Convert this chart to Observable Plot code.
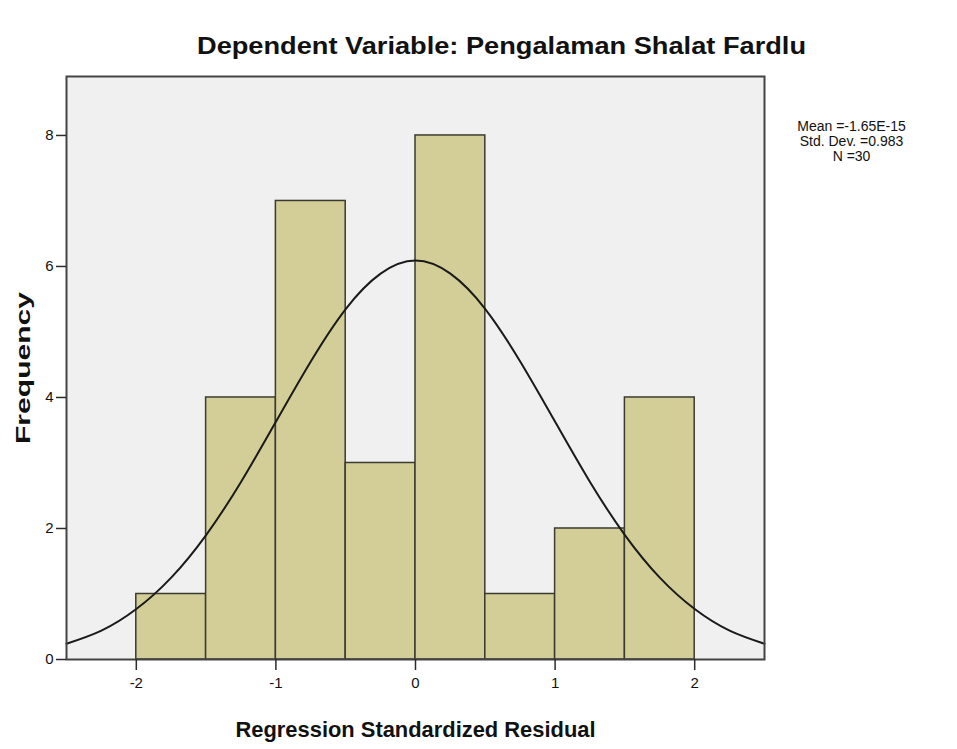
<!DOCTYPE html>
<html><head><meta charset="utf-8">
<script src="https://cdn.jsdelivr.net/npm/d3@7"></script>
<script src="https://cdn.jsdelivr.net/npm/@observablehq/plot@0.6"></script>
<style>body{margin:0;background:#fff}</style>
</head><body><div id="chart"></div>
<script>
const title = "Dependent Variable: Pengalaman Shalat Fardlu";
const xLabel = "Regression Standardized Residual";
const yLabel = "Frequency";
const binStart = [-2, -1.5, -1, -0.5, 0, 0.5, 1, 1.5];
const binEnd   = [-1.5, -1, -0.5, 0, 0.5, 1, 1.5, 2];
const counts   = [1, 4, 7, 3, 8, 1, 2, 4];
const xTicks = [-2, -1, 0, 1, 2];
const yTicks = [0, 2, 4, 6, 8];
const curveX = [-2.5,-2.25,-2,-1.75,-1.5,-1.25,-1,-0.75,-0.5,-0.25,0,0.25,0.5,0.75,1,1.25,1.5,1.75,2,2.25,2.5];
const curveY = [0.24,0.44,0.77,1.25,1.90,2.71,3.63,4.55,5.35,5.89,6.09,5.89,5.35,4.55,3.63,2.71,1.90,1.25,0.77,0.44,0.24];
const statLines = ["Mean =-1.65E-15", "Std. Dev. =0.983", "N =30"];

const bars = counts.map((c, i) => ({x1: binStart[i], x2: binEnd[i], y: c}));
const curve = curveX.map((x, i) => ({x, y: curveY[i]}));
const dark = "#2b2b2b";

const chart = Plot.plot({
  width: 957, height: 749,
  marginLeft: 66, marginRight: 193, marginTop: 76, marginBottom: 90,
  style: {fontFamily: "Liberation Sans, Arial, sans-serif", background: "#fff", color: dark},
  x: {domain: [-2.5, 2.5], label: null},
  y: {domain: [0, 8.9], label: null},
  marks: [
    Plot.frame({fill: "#f0f0f0"}),
    Plot.rectY(bars, {x1: "x1", x2: "x2", y: "y", fill: "#d3ce98", stroke: "#3a3a30", strokeWidth: 1.5}),
    Plot.line(curve, {x: "x", y: "y", curve: "natural", stroke: "#1a1a1a", strokeWidth: 2}),
    Plot.frame({stroke: "#444", strokeWidth: 2}),
    Plot.axisX({ticks: xTicks, tickFormat: d => d, tickSize: 11, tickPadding: 7, fontSize: 15, label: null, stroke: dark, strokeWidth: 1.5, fill: "#111"}),
    Plot.axisY({ticks: yTicks, tickSize: 10, tickPadding: 3, fontSize: 15, label: null, stroke: dark, strokeWidth: 1.5, fill: "#111"}),
    Plot.text([title], {frameAnchor: "top", dx: 86, dy: -39, text: d => d, fontSize: 23, fontWeight: "bold", fill: "#111", className: "ttl"}),
    Plot.text([xLabel], {frameAnchor: "bottom", dy: 77, text: d => d, fontSize: 22, fontWeight: "bold", fill: "#111", className: "xlab"}),
    Plot.text([yLabel], {frameAnchor: "left", dx: -43, rotate: -90, textAnchor: "middle", text: d => d, fontSize: 21, fontWeight: "bold", fill: "#111", className: "ylab"}),
    Plot.text([statLines.join("\n")], {frameAnchor: "top-right", dx: 87, dy: 44, text: d => d, lineAnchor: "top", textAnchor: "middle", lineHeight: 1.08, fontSize: 14, fill: "#111"})
  ]
});
document.getElementById("chart").appendChild(chart);
const fit = (cls, len) => d3.select(chart).selectAll(`g.${cls} text`).attr("textLength", len).attr("lengthAdjust", "spacingAndGlyphs");
fit("ttl", 609);
fit("xlab", 360);
fit("ylab", 152);
</script></body></html>
